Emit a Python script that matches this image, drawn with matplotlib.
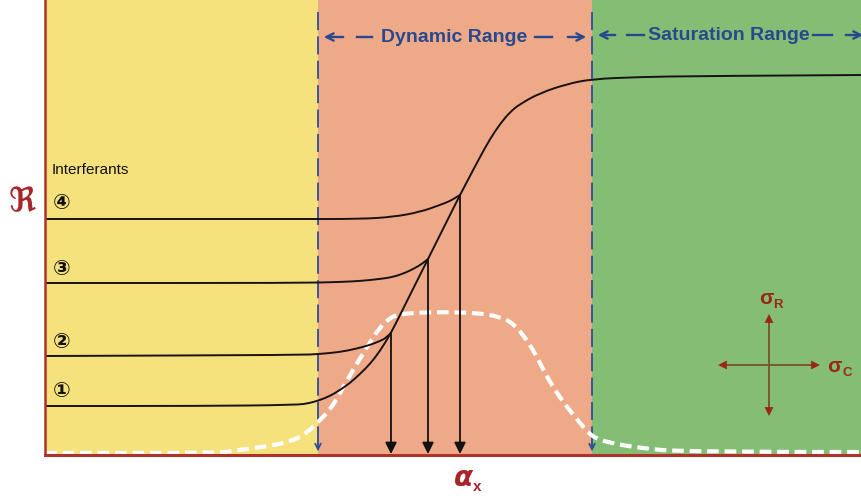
import matplotlib
matplotlib.use("Agg")
import matplotlib.pyplot as plt
from matplotlib.path import Path
from matplotlib.patches import PathPatch

# ---- data (x position, vertical position measured from top of image area) ----
region_edges = [45, 318, 592, 862]
region_colors = ["#f6e27c", "#eeaa88", "#84be74"]
axis_bottom = 455

main_x = [45, 200, 297, 310, 320, 330, 340, 350, 360, 370, 380, 391, 400, 410, 420,
          428, 440, 450, 460, 470, 480, 490, 500, 510, 520, 540, 567, 592, 640, 700, 862]
main_y = [406, 406, 405, 403, 400, 396, 390, 383, 374, 364, 351, 333, 315, 295, 275,
          259, 235, 215, 195, 176, 157, 139, 124, 112, 104, 93, 84, 79, 77, 76, 75]

int2_x = [45, 300, 320, 340, 355, 370, 380, 386, 391]
int2_y = [356, 355, 354, 352, 349, 345, 341, 338, 333]
int3_x = [45, 300, 340, 360, 380, 393, 405, 415, 422, 428]
int3_y = [283, 283, 282, 281, 279, 277, 273, 268, 264, 259]
int4_x = [45, 300, 360, 393, 420, 440, 450, 455, 460]
int4_y = [219, 219, 219, 217, 212, 205, 201, 198, 195]

dist_x = [45, 220, 230, 263, 290, 307, 320, 330, 340, 353, 367, 380, 390, 397, 410, 440,
          480, 500, 513, 527, 537, 547, 557, 567, 580, 592, 610, 640, 683, 862]
dist_y = [453, 453, 451, 447, 442, 433, 420, 410, 393, 370, 347, 327, 318, 315, 313, 312,
          313, 317, 323, 340, 357, 377, 393, 407, 423, 437, 443, 448, 452, 452]

drop_x = [391, 428, 460]
drop_y = [333, 259, 195]

marker_labels = ["\u2460", "\u2461", "\u2462", "\u2463"]
marker_y = [391, 342, 269, 203]

fig = plt.figure(figsize=(8.62, 4.96), dpi=100)
ax = fig.add_axes([0, 0, 1, 1])
ax.set_xlim(0, 862)
ax.set_ylim(496, 0)
ax.axis("off")


def smooth_path(xs, ys):
    """Quadratic B-spline style path using the read points as control points."""
    pts = list(zip(xs, ys))
    verts = [pts[0]]
    codes = [Path.MOVETO]
    if len(pts) > 2:
        m = ((pts[0][0] + pts[1][0]) / 2, (pts[0][1] + pts[1][1]) / 2)
        verts.append(m)
        codes.append(Path.LINETO)
        for i in range(1, len(pts) - 1):
            nxt = pts[i + 1]
            end = nxt if i == len(pts) - 2 else ((pts[i][0] + nxt[0]) / 2,
                                                  (pts[i][1] + nxt[1]) / 2)
            verts += [pts[i], end]
            codes += [Path.CURVE3, Path.CURVE3]
    else:
        verts.append(pts[-1])
        codes.append(Path.LINETO)
    return Path(verts, codes)


# coloured regions
for i, c in enumerate(region_colors):
    ax.fill_between([region_edges[i], region_edges[i + 1]], 0, axis_bottom,
                    color=c, lw=0, zorder=0)

# blue dashed region boundaries with small arrowheads at the bottom
blue = "#2c4f9c"
for xb in region_edges[1:3]:
    ax.plot([xb, xb], [12, axis_bottom - 4], color=blue, lw=1.3,
            dashes=(10, 3.5), zorder=2)
    ax.annotate("", xy=(xb, axis_bottom - 1), xytext=(xb, axis_bottom - 14),
                arrowprops=dict(arrowstyle="->", color=blue, lw=1.3,
                                mutation_scale=10), zorder=2)

# range labels with dashed arrows
tcol = "#28498e"
arrow_kw = dict(arrowstyle="->", color=tcol, lw=1.7, mutation_scale=13)
ax.annotate("", xy=(321, 37), xytext=(346, 37), arrowprops=arrow_kw)
ax.plot([357, 372], [37, 37], color=tcol, lw=1.7)
ax.text(454, 37, "Dynamic Range", ha="center", va="center", color=tcol,
        fontsize=14, fontweight="bold", family="Liberation Sans", zorder=5)
ax.plot([535, 552], [37, 37], color=tcol, lw=1.7)
ax.annotate("", xy=(589, 37), xytext=(565, 37), arrowprops=arrow_kw)

ax.annotate("", xy=(595, 35), xytext=(618, 35), arrowprops=arrow_kw)
ax.plot([627, 644], [35, 35], color=tcol, lw=1.7)
ax.text(729, 35, "Saturation Range", ha="center", va="center", color=tcol,
        fontsize=14, fontweight="bold", family="Liberation Sans", zorder=5)
ax.plot([813, 832], [35, 35], color=tcol, lw=1.7)
ax.annotate("", xy=(866, 35), xytext=(843, 35), arrowprops=arrow_kw,
            annotation_clip=False)

# distribution (white dashed)
ax.add_patch(PathPatch(smooth_path(dist_x, dist_y), fill=False, edgecolor="white",
                       lw=3, linestyle=(0, (2.8, 1.4)), zorder=3, capstyle="butt"))

# response curves
for xs, ys in [(main_x, main_y), (int2_x, int2_y), (int3_x, int3_y), (int4_x, int4_y)]:
    ax.add_patch(PathPatch(smooth_path(xs, ys), fill=False, edgecolor="#1a1212",
                           lw=1.4, zorder=4))

# vertical arrows to the concentration axis
for xd, yd in zip(drop_x, drop_y):
    ax.annotate("", xy=(xd, axis_bottom - 1), xytext=(xd, yd),
                arrowprops=dict(arrowstyle="-|>", color="#111111", lw=1.3,
                                mutation_scale=17, shrinkA=0, shrinkB=0), zorder=4)

# axes (red)
red = "#b0302c"
ax.plot([45, 45], [0, axis_bottom], color=red, lw=1.8, zorder=6)
ax.plot([45, 862], [axis_bottom, axis_bottom], color=red, lw=2.2, zorder=6)

# labels
ax.text(22, 202, "\u211c", ha="center", va="center", color="#a8262a",
        fontsize=24, fontweight="bold", family=["DejaVu Serif", "DejaVu Sans"])
ax.text(52, 170, "Interferants", ha="left", va="center", color="#111111",
        fontsize=11, family="Liberation Sans")
for lab, yy in zip(marker_labels, marker_y):
    ax.text(62, yy, lab, ha="center", va="center", color="#111111",
            fontsize=15, fontweight="bold", family=["DejaVu Sans", "Noto Sans CJK JP"])

ax.text(464, 478, "\u03b1", ha="center", va="center", color="#a8262a",
        fontsize=20, fontweight="bold", style="italic", family="DejaVu Sans")
ax.text(477, 487, "x", ha="center", va="center", color="#a8262a",
        fontsize=11, fontweight="bold", family="Liberation Sans")

# sigma cross
sig = "#9a2818"
cx, cy = 769, 365
ax.plot([724, 814], [cy, cy], color="#7a5a2a", lw=1.4, zorder=5)
ax.plot([cx, cx], [320, 410], color="#7a5a2a", lw=1.4, zorder=5)
for (x1, y1) in [(718, cy), (820, cy), (cx, 314), (cx, 416)]:
    ax.annotate("", xy=(x1, y1), xytext=(cx, cy),
                arrowprops=dict(arrowstyle="-|>", color=sig, lw=0, mutation_scale=16,
                                shrinkA=0, shrinkB=0), zorder=5)
ax.text(766, 298, "\u03c3", ha="center", va="center", color=sig,
        fontsize=15, fontweight="bold", family="Liberation Sans")
ax.text(778, 305, "R", ha="center", va="center", color=sig,
        fontsize=9.5, fontweight="bold", family="Liberation Sans")
ax.text(834, 366, "\u03c3", ha="center", va="center", color=sig,
        fontsize=15, fontweight="bold", family="Liberation Sans")
ax.text(847, 373, "C", ha="center", va="center", color=sig,
        fontsize=9.5, fontweight="bold", family="Liberation Sans")

fig.savefig("out.png", dpi=100)
